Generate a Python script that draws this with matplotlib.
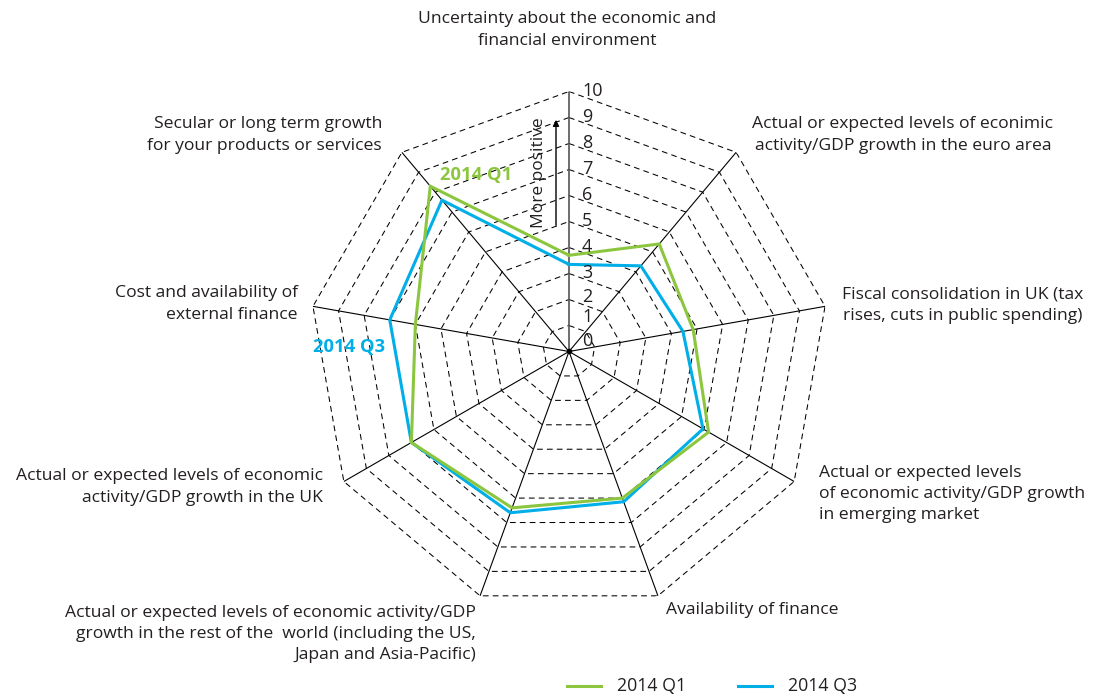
import numpy as np
import matplotlib
matplotlib.use("Agg")
import matplotlib.pyplot as plt

plt.rcParams["font.family"] = ["Open Sans", "DejaVu Sans"]

categories = [
    "Uncertainty about the economic and\nfinancial environment",
    "Actual or expected levels of econimic\nactivity/GDP growth in the euro area",
    "Fiscal consolidation in UK (tax\nrises, cuts in public spending)",
    "Actual or expected levels\nof economic activity/GDP growth\nin emerging market",
    "Availability of finance",
    "Actual or expected levels of economic activity/GDP\ngrowth in the rest of the  world (including the US,\nJapan and Asia-Pacific)",
    "Actual or expected levels of economic\nactivity/GDP growth in the UK",
    "Cost and availability of\nexternal finance",
    "Secular or long term growth\nfor your products or services",
]
q1_values = [3.7, 5.4, 4.85, 6.2, 6.0, 6.4, 7.0, 6.0, 8.3]
q3_values = [3.35, 4.3, 4.45, 5.95, 6.15, 6.6, 7.0, 7.0, 7.6]
series_names = ["2014 Q1", "2014 Q3"]
ring_levels = list(range(1, 11))
tick_labels = [str(i) for i in range(0, 11)]

green = "#8cc63f"
blue = "#00aee8"
text_col = "#231f20"

W, H = 1098, 694
fig = plt.figure(figsize=(W / 100, H / 100), dpi=100)
cx, cy, R = 569, 351.5, 260
ax = fig.add_axes([(cx - R) / W, (H - cy - R) / H, 2 * R / W, 2 * R / H],
                  projection="polar")
ax.set_theta_zero_location("N")
ax.set_theta_direction(-1)
ax.set_ylim(0, 10)
ax.axis("off")

n = len(categories)
theta = np.arange(n) * 2 * np.pi / n
theta_c = np.append(theta, theta[0])

# dashed polygon rings
for lv in ring_levels:
    ax.plot(theta_c, [lv] * (n + 1), color="black", lw=0.75, linestyle="--",
            dashes=(5.5, 4))

# spokes
for i, t in enumerate(theta):
    ax.plot([t, t], [0, 10], color="#555555" if i == 0 else "black",
            lw=1.2 if i == 0 else 0.8)
ax.plot([0], [0], marker="o", color="black", ms=3)

# series
ax.plot(theta_c, q1_values + [q1_values[0]], color=green, lw=2.2, zorder=5,
        solid_joinstyle="miter")
ax.plot(theta_c, q3_values + [q3_values[0]], color=blue, lw=2.2, zorder=4,
        solid_joinstyle="miter")

# tick labels along top spoke
tick_y = [341, 317, 297]
for i, lab in enumerate(tick_labels):
    y = tick_y[i] if i < 3 else cy - 26 * i
    fig.text(582 / W, 1 - y / H, lab, fontsize=13,
             color=text_col, ha="left", va="center")

# "More positive" arrow
fig.text(539 / W, 1 - 173 / H, "More positive", rotation=90, fontsize=12.5,
         color=text_col, ha="center", va="center")
ax.annotate("", xy=(556 / W, 1 - 117 / H), xytext=(556 / W, 1 - 228 / H),
            xycoords="figure fraction", textcoords="figure fraction",
            arrowprops=dict(arrowstyle="-|>", color="black", lw=1.0,
                            mutation_scale=9))

# category labels (x, y of anchor in pixels, ha)
label_pos = [
    (567, 30, "center"),
    (903, 135, "center"),
    (963, 305, "center"),
    (819, 494, "left"),
    (666, 610, "left"),
    (476, 634, "right"),
    (323, 487, "right"),
    (298, 304, "right"),
    (382, 135, "right"),
]
for lab, (x, y, ha) in zip(categories, label_pos):
    fig.text(x / W, 1 - y / H, lab, fontsize=12.6, color=text_col, ha=ha,
             va="center", linespacing=1.43,
             multialignment=ha)

# in-chart series labels
fig.text(440 / W, 1 - 175 / H, series_names[0], fontsize=13.2, fontweight="bold",
         color=green, ha="left", va="center")
fig.text(313 / W, 1 - 347 / H, series_names[1], fontsize=13.2, fontweight="bold",
         color=blue, ha="left", va="center")

# legend
for (x0, name, col) in [(567, series_names[0], green), (738, series_names[1], blue)]:
    fig.add_artist(plt.Line2D([x0 / W, (x0 + 34) / W], [1 - 686 / H] * 2,
                              color=col, lw=2.2))
    fig.text((x0 + 50) / W, 1 - 686 / H, name, fontsize=12.8, color=text_col,
             ha="left", va="center")

fig.savefig("out.png", dpi=100)
